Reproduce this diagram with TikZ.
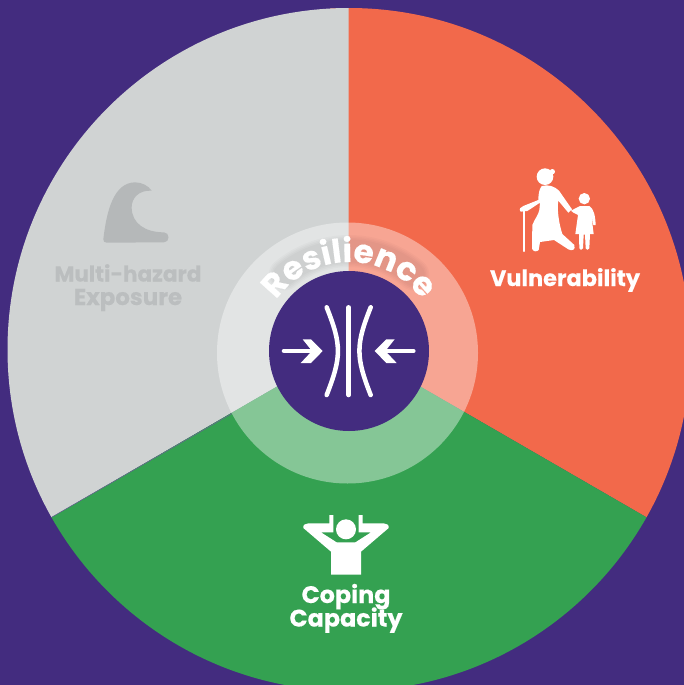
\documentclass[tikz,border=0pt]{standalone}
\usepackage{fontspec}
\setmainfont{Poppins}[BoldFeatures={FakeBold=0.35}]
\usetikzlibrary{decorations.text}
\definecolor{bgpurple}{HTML}{432C7F}
\definecolor{hazgray}{HTML}{D0D3D3}
\definecolor{hazdark}{HTML}{B5B8B9}
\definecolor{hazext}{HTML}{BBBEBF}
\definecolor{vulorange}{HTML}{F2694B}
\definecolor{copgreen}{HTML}{34A151}
\newcommand{\lblfont}[1]{\bfseries\fontsize{#1}{18pt}\selectfont}
\tikzset{
  px/.style={x=.75pt,y=-.75pt},
  zoomed/.style={x=.25pt,y=-.25pt},
  label/.style={font=\lblfont{16.8pt},text=white,inner sep=0pt,anchor=base},
  wide/.style={font=\lblfont{17.9pt}},
  hazlabel/.style={label,text=hazext,font=\lblfont{16.2pt}},
  hazwide/.style={hazlabel,font=\lblfont{17.2pt}},
  iconline/.style={draw=white,line cap=round,line join=round,fill=none},
  resilpath/.style={decorate,decoration={text along path,text align=center,
    text={|\bfseries\fontsize{24.5pt}{26pt}\selectfont\color{#1}|Resilience}}}
}
\begin{document}
\begin{tikzpicture}[px]
\useasboundingbox (0,0) rectangle (684,685);
\fill[bgpurple] (0,0) rectangle (684,685);
\coordinate (disc) at (349,349.5);
\coordinate (meet) at (348.5,345);
\coordinate (c) at (349,351);
\coordinate (ringc) at (347.5,353);
\begin{scope}
  \clip (0,0) rectangle (684,685);
  \clip (disc) circle[radius=341.5*.75pt];
  \fill[vulorange] (330,345) -- (330,-10) -- (700,-10) -- (700,548) -- (646,517) -- (meet) -- cycle;
  \fill[hazgray] (meet) -- (52,517) -- (-10,552) -- (-10,-10) -- (348.5,-10) -- cycle;
  \fill[copgreen] (meet) -- (646,517) -- (700,548) -- (700,700) -- (-10,700) -- (-10,552) -- (52,517) -- cycle;
  \draw[bgpurple!70!hazgray,line width=.35pt] (52,517) -- (232,413.5);
\end{scope}
\fill[white,opacity=.4] (ringc) circle[radius=130.5*.75pt];
% soft halo behind the curved word
\foreach \w in {32,29,26,23}{
  \draw[black,opacity=.018,line cap=round,line width=\w*.75pt]
    (c) ++(130:100*.75pt) arc[start angle=130,end angle=50,radius=100*.75pt];
}
\fill[bgpurple] (c) circle[radius=80*.75pt];
% centre icon
\begin{scope}[shift={(210,220)},zoomed]
  \draw[iconline,line width=3.4pt] (416,262) -- (416,525);
  \draw[iconline,line width=3.4pt] (350,262) .. controls (395,375) and (395,410) .. (350,525);
  \draw[iconline,line width=3.4pt] (482,262) .. controls (437,375) and (437,410) .. (482,525);
  \draw[iconline,line width=3.4pt] (222,393) -- (310,393);
  \draw[iconline,line width=3.4pt] (610,393) -- (522,393);
  \fill[white] (278,358) -- (303,358) -- (338,393) -- (303,429) -- (272,429) -- (306,393) -- cycle;
  \fill[white] (554,358) -- (529,358) -- (494,393) -- (529,429) -- (560,429) -- (526,393) -- cycle;
\end{scope}
\path[resilpath=white] (c) ++(-89,0) arc[start angle=180,end angle=0,radius=89*.75pt];
% wave icon
\begin{scope}[shift={(40,170)},zoomed]
  \fill[hazdark] (190,208) .. controls (200,120) and (222,38) .. (285,37)
    .. controls (305,37) and (325,47) .. (335,62)
    .. controls (295,60) and (275,85) .. (275,112)
    .. controls (275,160) and (315,187) .. (372,187)
    .. controls (390,187) and (390,217) .. (372,217)
    -- (200,218) .. controls (193,218) and (190,214) .. (190,208) -- cycle;
\end{scope}
% woman and child
\begin{scope}[shift={(490,160)},zoomed]
  \fill[white] (165,50) circle[radius=25*.25pt];
  \fill[white] (187,35) circle[radius=8*.25pt];
  \fill[white] (155,78) .. controls (175,72) and (195,80) .. (207,92)
    -- (246,148) -- (235,158) -- (205,122)
    .. controls (200,150) and (208,195) .. (217,222)
    -- (253,255) .. controls (258,270) and (245,274) .. (235,268)
    -- (192,240) -- (150,246) -- (146,270) .. controls (140,277) and (128,275) .. (126,265)
    -- (127,195) .. controls (135,175) and (145,165) .. (148,150)
    -- (150,128) -- (112,153) -- (92,155) .. controls (85,148) and (92,140) .. (100,138)
    -- (145,120) .. controls (145,100) and (148,88) .. (155,78) -- cycle;
  \draw[iconline,line width=1.6pt] (101,150) -- (101,273);
  \fill[white] (283,116) circle[radius=17*.25pt];
  \fill[white] (270,138) -- (298,138) .. controls (310,145) and (316,165) .. (317,195)
    -- (310,195) -- (304,165) -- (311,222) -- (300,222) -- (298,265) .. controls (296,271) and (288,271) .. (287,265)
    -- (285,224) -- (281,224) -- (279,265) .. controls (277,271) and (269,271) .. (268,265) -- (267,222)
    -- (256,222) -- (264,165) -- (250,158) -- (243,152) -- cycle;
\end{scope}
% coping icon
\begin{scope}[shift={(270,500)},zoomed]
  \fill[white] (228,88) circle[radius=30*.25pt];
  \fill[white] (100,84) .. controls (98,75) and (106,70) .. (115,70) -- (178,70) -- (178,45) -- (190,45)
    -- (190,97) -- (153,97) -- (200,127) -- (256,127) -- (303,97) -- (266,97)
    -- (266,45) -- (278,45) -- (278,70) -- (341,70) .. controls (350,70) and (358,75) .. (356,84)
    -- (273,155) -- (273,224) -- (183,224) -- (183,155) -- cycle;
\end{scope}
\node[label] (vul) at (565,286) {Vulnerability};
\node[label,wide] (cop) at (346,603) {Coping};
\node[label,wide] (cap) at (346,626.5) {Capacity};
\node[hazlabel] (haz) at (128,281.5) {Multi-hazard};
\node[hazwide] (exp) at (128,305) {Exposure};
\end{tikzpicture}
\end{document}
